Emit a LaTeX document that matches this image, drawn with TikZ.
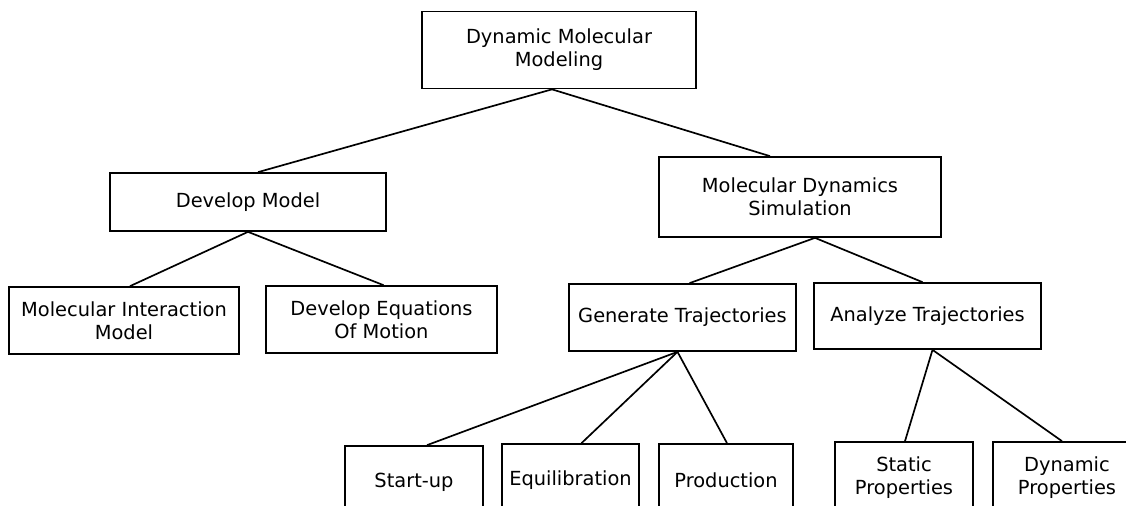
\documentclass[tikz,border=0pt]{standalone}
\usepackage{fontspec}
\setmainfont{DejaVu Sans}
\usetikzlibrary{positioning}

\begin{document}
\begin{tikzpicture}[
    x=0.025cm, y=-0.025cm,
    box/.style={rectangle, draw, line width=1.2pt, align=center, inner sep=0pt, font=\fontsize{13.8}{16.5}\selectfont},
    link/.style={line width=1.2pt}
]
    \clip (0,0) rectangle (1126,506);

    % Top level
    \node[box, minimum width=6.85cm, minimum height=1.925cm] (dmm) at (559,50) {Dynamic Molecular\\Modeling};

    % Second level
    \node[box, minimum width=6.9cm, minimum height=1.45cm] (devmodel) at (248,202) {Develop Model};
    \node[box, minimum width=7.05cm, minimum height=2cm] (mdsim) at (800,197) {Molecular Dynamics\\Simulation};

    % Third level
    \node[box, minimum width=5.75cm, minimum height=1.675cm] (interact) at (124,320.5) {Molecular Interaction\\Model};
    \node[box, minimum width=5.775cm, minimum height=1.675cm] (equations) at (381.5,319.5) {Develop Equations\\Of Motion};
    \node[box, minimum width=5.675cm, minimum height=1.675cm] (gentraj) at (682.5,317.5) {Generate Trajectories};
    \node[box, minimum width=5.675cm, minimum height=1.65cm] (anatraj) at (927.5,316) {Analyze Trajectories};

    % Bottom level
    \node[box, minimum width=3.45cm, minimum height=1.8cm] (startup) at (414,482) {Start-up};
    \node[box, minimum width=3.425cm, minimum height=1.8cm] (equil) at (570.5,480) {Equilibration};
    \node[box, minimum width=3.35cm, minimum height=1.8cm] (prod) at (726,480) {Production};
    \node[box, minimum width=3.45cm, minimum height=1.8cm] (static) at (904,478) {Static\\Properties};
    \node[box, minimum width=3.7cm, minimum height=1.8cm] (dynprop) at (1067,478) {Dynamic\\Properties};

    % Connectors
    \draw[link] ([shift={(-7,0)}]dmm.south) -- ([shift={(10,0)}]devmodel.north);
    \draw[link] ([shift={(-7,0)}]dmm.south) -- ([shift={(-30,0)}]mdsim.north);
    \draw[link] (devmodel.south) -- ([shift={(6,0)}]interact.north);
    \draw[link] (devmodel.south) -- ([shift={(2,0)}]equations.north);
    \draw[link] ([shift={(15,0)}]mdsim.south) -- ([shift={(7,0)}]gentraj.north);
    \draw[link] ([shift={(15,0)}]mdsim.south) -- ([shift={(-5,0)}]anatraj.north);
    \draw[link] ([shift={(-5,0)}]gentraj.south) -- ([shift={(13,0)}]startup.north);
    \draw[link] ([shift={(-5,0)}]gentraj.south) -- ([shift={(11,0)}]equil.north);
    \draw[link] ([shift={(-5,0)}]gentraj.south) -- ([shift={(1,0)}]prod.north);
    \draw[link] ([shift={(5,0)}]anatraj.south) -- ([shift={(1,0)}]static.north);
    \draw[link] ([shift={(5,0)}]anatraj.south) -- ([shift={(-5,0)}]dynprop.north);

\end{tikzpicture}
\end{document}
